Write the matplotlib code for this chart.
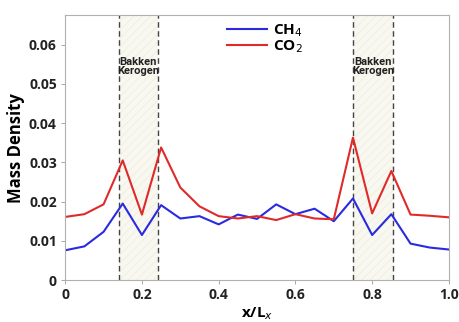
import matplotlib
matplotlib.use("Agg")
import matplotlib.pyplot as plt
import numpy as np

x = [0.00, 0.05, 0.10, 0.15, 0.20, 0.25, 0.30, 0.35, 0.40, 0.45, 0.50,
     0.55, 0.60, 0.65, 0.70, 0.75, 0.80, 0.85, 0.90, 0.95, 1.00]
ch4 = [0.0076, 0.0086, 0.0123, 0.0195, 0.0115, 0.0191, 0.0157, 0.0163, 0.0142, 0.0167, 0.0156,
       0.0193, 0.0168, 0.0182, 0.0150, 0.0208, 0.0115, 0.0168, 0.0093, 0.0083, 0.0078]
co2 = [0.0161, 0.0168, 0.0193, 0.0305, 0.0167, 0.0338, 0.0236, 0.0188, 0.0163, 0.0157, 0.0163,
       0.0153, 0.0168, 0.0157, 0.0155, 0.0363, 0.0170, 0.0278, 0.0167, 0.0164, 0.0160]
kerogen_bands = [(0.139, 0.241), (0.751, 0.855)]
xticks = [0, 0.2, 0.4, 0.6, 0.8, 1.0]
xticklabels = ["0", "0.2", "0.4", "0.6", "0.8", "1.0"]
yticks = [0, 0.01, 0.02, 0.03, 0.04, 0.05, 0.06]
yticklabels = ["0", "0.01", "0.02", "0.03", "0.04", "0.05", "0.06"]

plt.rcParams['font.family'] = ['Open Sans', 'DejaVu Sans']
plt.rcParams['hatch.color'] = '#ececdf'
plt.rcParams['hatch.linewidth'] = 0.5

fig = plt.figure(figsize=(4.59, 3.22), dpi=100)
ax = fig.add_axes([0.142, 0.13, 0.836, 0.823])

for lo, hi in kerogen_bands:
    ax.axvspan(lo, hi, facecolor='#f8f8f0', edgecolor='#ececdf', hatch='////', lw=0, zorder=0)
    for v in (lo, hi):
        ax.axvline(v, color='#444444', ls=(0, (4, 2.5)), lw=1.0, zorder=1)
    ax.text((lo + hi) / 2, 0.0545, "Bakken\nKerogen", ha='center', va='center',
            fontsize=8.0, fontweight='bold', linespacing=0.9,
            family=['Liberation Sans Narrow', 'Roboto', 'DejaVu Sans'], color='#222222', zorder=3)

ax.plot(x, ch4, color='#2a2ae0', lw=1.5, label='CH$_4$', zorder=2)
ax.plot(x, co2, color='#e02a2a', lw=1.5, label='CO$_2$', zorder=2)

ax.set_xlim(0, 1.0)
ax.set_ylim(0, 0.0675)
ax.set_xticks(xticks)
ax.set_xticklabels(xticklabels)
ax.set_yticks(yticks)
ax.set_yticklabels(yticklabels)
ax.tick_params(labelsize=10, length=3, width=0.6, color='#999999', pad=3)
for lab in ax.get_xticklabels() + ax.get_yticklabels():
    lab.set_fontweight('bold')
    lab.set_color('#222222')
for s in ax.spines.values():
    s.set_color('#b0b0b0')
    s.set_linewidth(0.8)

ax.set_xlabel('x/L$_x$', fontsize=11, fontweight='bold', labelpad=2)
ax.set_ylabel('Mass Density', fontsize=12, fontweight='bold', labelpad=3)

leg = ax.legend(loc='upper center', bbox_to_anchor=(0.52, 1.015), frameon=False,
                fontsize=11, handlelength=2.6, handletextpad=0.4, labelspacing=0.0,
                borderaxespad=0.3)
for t in leg.get_texts():
    t.set_fontweight('bold')

fig.savefig('out.png', dpi=100)
